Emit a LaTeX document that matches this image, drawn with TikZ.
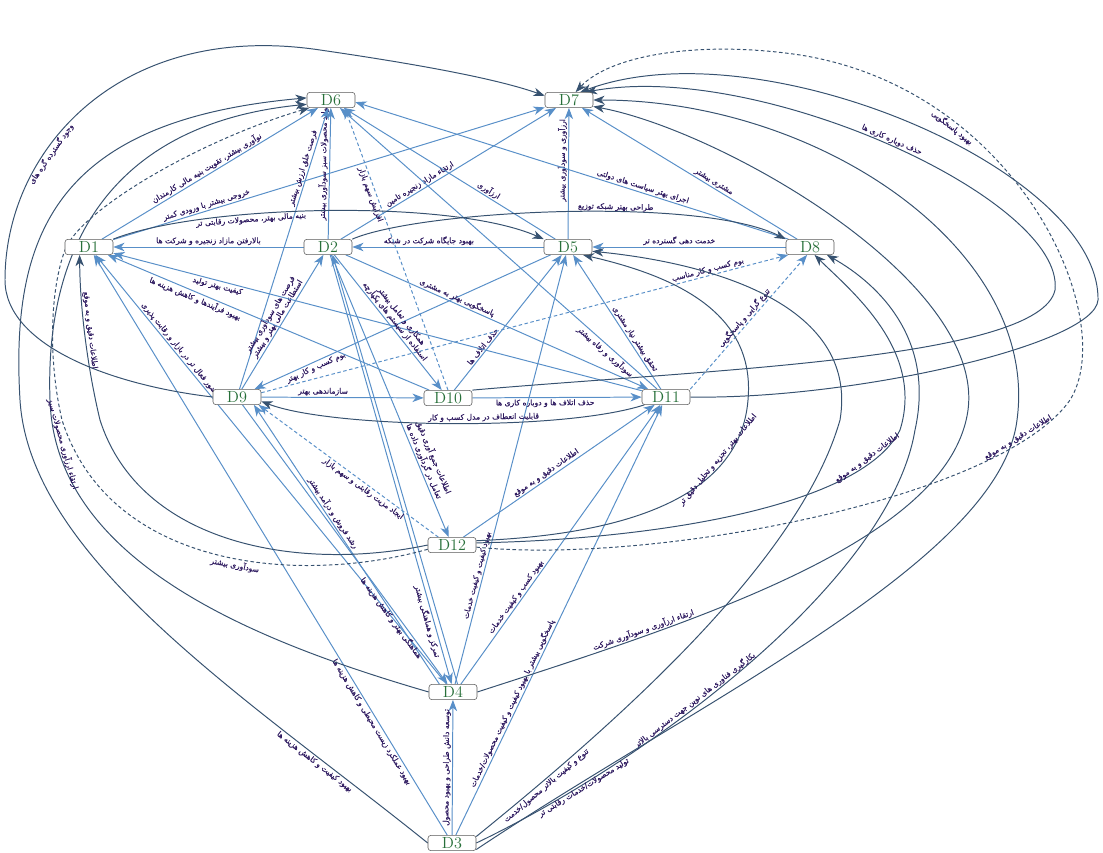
\documentclass[tikz,border=0pt]{standalone}
\usepackage{fontspec}
\usetikzlibrary{arrows.meta,backgrounds}
\TeXXeTstate=1
\newfontfamily\fafont[Script=Arabic, FakeBold=0.6]{DejaVu Sans}
\newcommand\fa[1]{{\fafont\beginR #1\endR}}
\definecolor{edgelight}{RGB}{88,143,200}
\definecolor{edgedark}{RGB}{55,82,112}
\definecolor{labeltext}{RGB}{45,25,95}
\definecolor{nodetext}{RGB}{40,112,58}

\begin{document}
\begin{tikzpicture}[x=0.025cm, y=-0.025cm, ->, >={Stealth[length=8pt, width=6pt, inset=2.4pt]}]
      \tikzstyle{dnode} = [rectangle, draw=black!65, fill=white, rounded corners=2, minimum width=1.2cm, minimum height=0.38cm, inner sep=0pt, text=nodetext, font=\fontsize{11.5}{12}\selectfont]
      \tikzstyle{lite}  = [draw=edgelight, line width=0.7pt]
      \tikzstyle{dark}  = [draw=edgedark, line width=0.7pt]
      \tikzstyle{dsh}   = [dash pattern=on 2.5pt off 1.8pt]
      \tikzstyle{desc}  = [sloped, font=\fontsize{5.4}{6}\selectfont, text=labeltext, inner sep=1pt, align=center]

      \useasboundingbox (0,0) rectangle (1103,853);

      \node[dnode] (D6)  at (331,100) {D6};
      \node[dnode] (D7)  at (569,100) {D7};
      \node[dnode] (D1)  at (89,247)  {D1};
      \node[dnode] (D2)  at (328,247) {D2};
      \node[dnode] (D5)  at (568,247) {D5};
      \node[dnode] (D8)  at (810,247) {D8};
      \node[dnode] (D9)  at (237,397) {D9};
      \node[dnode] (D10) at (448,398) {D10};
      \node[dnode] (D11) at (666,397) {D11};
      \node[dnode] (D12) at (452,545) {D12};
      \node[dnode] (D4)  at (453,692) {D4};
      \node[dnode] (D3)  at (452,843) {D3};

      \begin{pgfonlayer}{background}
      \draw[lite] (D2)  -- (D1)  node[desc, above, pos=.5]  {\fa{بالارفتن مازاد زنجیره و شرکت ها}};
      \draw[lite] (D5)  -- (D2)  node[desc, above, pos=.6]  {\fa{بهبود جایگاه شرکت در شبکه}};
      \draw[lite] (D8)  -- (D5)  node[desc, above, pos=.55] {\fa{خدمت دهی گسترده تر}};
      \draw[lite] (D9)  -- (D10) node[desc, above, pos=.38] {\fa{سازماندهی بهتر}};
      \draw[lite] (D10) -- (D11) node[desc, below, pos=.43] {\fa{حذف اتلاف ها و دوباره کاری ها}};
      \draw[lite] (D3)  -- (D4)  node[desc, above, pos=.5]  {\fa{توسعه دانش طراحی و بهبود محصول}};
      \draw[lite] (D5)  -- (D7)  node[desc, above, pos=.6]  {\fa{ارزآوری و سودآوری بیشتر}};
      \draw[lite] (D8)  -- (D7)  node[desc, above, pos=.4]  {\fa{مشتری بیشتر}};
      \draw[lite] (D8.160) -- (D6.-5) node[desc, above, pos=.34] {\fa{اجرای بهتر سیاست های دولتی}};
      \draw[lite] (D2)  -- (D7)  node[desc, above, pos=.38] {\fa{ارتقاء مازاد زنجیره تامین}};
      \draw[lite] (D1)  -- (D7)  node[desc, above, pos=.22] {\fa{خروجی بیشتر با ورودی کمتر}};
      \draw[lite] (D1)  -- (D6)  node[desc, above, pos=.5]  {\fa{نوآوری بیشتر، تقویت بنیه مالی کارمندان}};
      \draw[lite] (D2)  -- (D6)  node[desc, above, pos=.58] {\fa{تولید محصولات سبز سودآوری بیشتر}};
      \draw[lite] (D5)  -- (D6)  node[desc, above, pos=.33] {\fa{ارزآوری}};
      \draw[lite] (D11) -- (D6)  node[desc, below, pos=.15] {\fa{سودآوری و رفاه بیشتر}};
      \draw[lite] (D9)  -- (D6.250) node[desc, above, pos=.78] {\fa{فرصت خلق ارزش بیشتر}};
      \draw[lite] (D9)  -- (D2.240) node[desc, above, pos=.5] {\fa{فرصت های سودآوری بیشتر}\\\fa{استطاعت مالی بهتر و بیشتر}};
      \draw[lite] (D5)  -- (D9)  node[desc, below, pos=.8]  {\fa{بوم کسب و کار بهتر}};
      \draw[lite] (D2)  -- (D11) node[desc, above, pos=.36] {\fa{پاسخگویی بهتر به مشتری}};
      \draw[lite] (D10) -- (D5)  node[desc, above, pos=.3]  {\fa{حذف اتلاف ها}};
      \draw[lite] (D11) -- (D5)  node[desc, above, pos=.35] {\fa{تحقق بیشتر نیاز مشتری}};
      \draw[lite] (D11) -- (D1)  node[desc, below, pos=.8]  {\fa{کیفیت بهتر تولید}};
      \draw[lite] (D10) -- (D1)  node[desc, below, pos=.72] {\fa{بهبود فرآیندها و کاهش هزینه ها}};
      \draw[lite] (D4)  -- (D1)  node[desc, above, pos=.77] {\fa{حضور فعال تر در بازار و رقابت پذیری}};
      \draw[lite] (D3)  -- (D1)  node[desc, below, pos=.2]  {\fa{بهبود عملکرد زیست محیطی و کاهش هزینه ها}};
      \draw[lite] (D4.150) -- (D9.-25) node[desc, above, pos=.6] {\fa{رشد فروش و درآمد بیشتر}};
      \draw[lite] (D9.-55) -- (D4.125) node[desc, below, pos=.75] {\fa{هماهنگی بهتر و کاهش هزینه ها}};
      \draw[lite] (D2)  -- (D4.100) node[desc, below, pos=.85] {\fa{تمرکز و هماهنگی بیشتر}};
      \draw[lite] (D4.60) -- (D2.-60);
      \draw[lite] (D2)  -- (D12) node[desc, above, pos=.74] {\fa{اطلاعات جمع آوری دقیق}\\\fa{تعامل در گردآوری داده ها}};
      \draw[lite] (D2)  -- (D10) node[desc, above, pos=.52] {\fa{همکاری و تعامل بیشتر}\\\fa{استفاده از سیستم های یکپارچه}};
      \draw[lite] (D12) -- (D11) node[desc, above, pos=.45] {\fa{اطلاعات دقیق و به موقع}};
      \draw[lite] (D4)  -- (D5)  node[desc, above, pos=.25] {\fa{بهبود کیفیت و کیفیت خدمات}};
      \draw[lite] (D4.45) -- (D11) node[desc, above, pos=.3] {\fa{بهبود کسب و کیفیت خدمات}};
      \draw[lite] (D3)  -- (D11) node[desc, above, pos=.3]  {\fa{پاسخگویی بیشتر با بهبود کیفیت و کیفیت محصولات/خدمات}};

      \draw[lite, dsh] (D10.north) -- (D6.-30) node[desc, below, pos=.7] {\fa{افزایش سهم بازار}};
      \draw[lite, dsh] (D12.150) -- (D9.-20) node[desc, below, pos=.4] {\fa{ایجاد مزیت رقابتی و سهم بازار}};
      \draw[lite, dsh] (D9.10) -- (D8.200) node[desc, above, pos=.85] {\fa{بوم کسب و کار مناسب}};
      \draw[lite, dsh] (D11.north east) -- (D8.250) node[desc, above, pos=.5] {\fa{تنوع گرایی و پاسخگویی}};

      \draw[dark] (D11.200) .. controls (560,432) and (330,428) .. (D9.-10) node[desc, above, pos=.42] {\fa{قابلیت انعطاف در مدل کسب و کار}};
      \draw[dark] (D1.north east) .. controls (200,205) and (450,198) .. (D5.north west) node[desc, below, pos=.35] {\fa{بنیه مالی بهتر، محصولات رقابتی تر}};
      \draw[dark] (D2.north east) .. controls (420,210) and (700,196) .. (D8.north west) node[desc, above, pos=.6, inner sep=0.4pt] {\fa{طراحی بهتر شبکه توزیع}};

      \draw[dark] (D9.west) .. controls (110,385) and (5,345) .. (5,280) .. controls (5,150) and (120,20) .. (320,50) node[desc, below, pos=.35] {\fa{وجود گسترده گره های}} .. controls (430,66) and (500,80) .. (D7.170);
      \draw[dark] (D3.west) .. controls (250,700) and (30,560) .. (20,400) node[desc, below, pos=.2] {\fa{بهبود کیفیت و کاهش هزینه ها}} .. controls (10,230) and (60,120) .. (D6.175);
      \draw[dark] (D4.west) .. controls (250,640) and (55,560) .. (50,400) node[desc, above, pos=.9] {\fa{ارتقاء ارزآوری محصولات سبز}} .. controls (45,260) and (100,125) .. (D6.190);
      \draw[dark] (D12.west) .. controls (300,572) and (140,545) .. (100,420) .. controls (88,370) and (80,310) .. (D1.220) node[desc, above, pos=.55] {\fa{اطلاعات دقیق و به موقع}};
      \draw[dark, dsh] (D12.190) .. controls (300,585) and (110,570) .. (62,420) node[desc, below, pos=.45] {\fa{سودآوری بیشتر}} .. controls (48,360) and (50,290) .. (65,250) .. controls (80,210) and (200,140) .. (D6.200);

      \draw[dark] (D12.10) .. controls (620,535) and (740,500) .. (748,400) node[desc, above, pos=.75] {\fa{اطلاعات بهتر، تجزیه و تحلیل دقیق تر}} .. controls (756,310) and (670,275) .. (D5.-28);
      \draw[dark] (D3.15) .. controls (620,720) and (800,560) .. (840,420) node[desc, below, pos=.15] {\fa{تنوع و کیفیت بالاتر محصول/خدمت}} .. controls (860,300) and (700,262) .. (D5.-10);
      \draw[dark] (D12.5) .. controls (640,540) and (860,510) .. (900,430) node[desc, above, pos=.85] {\fa{اطلاعات دقیق و به موقع}} .. controls (925,350) and (850,290) .. (D8.-60);
      \draw[dark] (D3.east) .. controls (650,760) and (890,580) .. (915,430) node[desc, above, pos=.4] {\fa{بکارگیری فناوری های نوین جهت دسترسی بالاتر}} .. controls (935,340) and (880,285) .. (D8.-25);
      \draw[dark] (D4.east) .. controls (700,620) and (950,540) .. (968,410) node[desc, above, pos=.25] {\fa{ارتقاء ارزآوری و سودآوری شرکت}} .. controls (985,280) and (720,130) .. (D7.-15);
      \draw[dark] (D3.-15) .. controls (700,700) and (1000,560) .. (1017,420) node[desc, below, pos=.15] {\fa{تولید محصولات/خدمات رقابتی تر}} .. controls (1040,250) and (820,100) .. (D7.east);
      \draw[dark] (D10.north east) .. controls (700,370) and (1040,360) .. (1055,290) .. controls (1065,200) and (760,60) .. (D7.25) node[desc, above, pos=.5] {\fa{حذف دوباره کاری ها}};
      \draw[dark] (D11.east) .. controls (850,400) and (1095,345) .. (1098,300) .. controls (1100,170) and (760,25) .. (D7.35);
      \draw[dark, dsh] (D12.-5) .. controls (650,565) and (1000,500) .. (1070,400) node[desc, above, pos=.85] {\fa{اطلاعات دقیق و به موقع}} .. controls (1120,320) and (1020,90) .. (800,55) node[desc, below, pos=.72] {\fa{بهبود پاسخگویی}} .. controls (700,40) and (610,55) .. (D7.50);
      \end{pgfonlayer}
\end{tikzpicture}
\end{document}
